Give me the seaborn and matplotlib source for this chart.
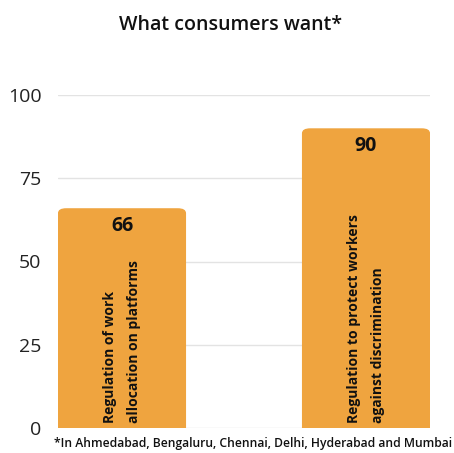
import matplotlib
matplotlib.use("Agg")
import matplotlib.pyplot as plt
import seaborn as sns
import pandas as pd
from matplotlib.patches import FancyBboxPatch

categories = ["Regulation of work\nallocation on platforms",
              "Regulation to protect workers\nagainst discrimination"]
values = [66, 90]
yticks = [0, 25, 50, 75, 100]
title = "What consumers want*"
footnote = "*In Ahmedabad, Bengaluru, Chennai, Delhi, Hyderabad and Mumbai"

sns.set_theme(style="white")
plt.rcParams['font.family'] = ['Open Sans', 'DejaVu Sans']

BAR = "#EFA43F"
df = pd.DataFrame({"cat": categories, "val": values})

fig = plt.figure(figsize=(4.54, 4.53), dpi=100)
ax = fig.add_axes([58/454, 25/453, 372/454, 333/453])
sns.barplot(data=df, x="cat", y="val", color=BAR, width=0.525, saturation=1,
            ax=ax, zorder=3)

ax.set_xlim(-0.2623, 1.2623)
ax.set_ylim(0, 100)

# rounded top corners
px_x = 372 / (1.2623 * 2)   # px per x unit
px_y = 333 / 100            # px per y unit
for p in list(ax.patches):
    x0, y0 = p.get_x(), p.get_y()
    w, h = p.get_width(), p.get_height()
    p.set_visible(False)
    r = 5 / px_x
    fb = FancyBboxPatch((x0, y0 - 3), w, h + 3,
                        boxstyle=f"round,pad=0,rounding_size={r}",
                        mutation_aspect=px_x / px_y,
                        facecolor=BAR, edgecolor="none", zorder=3,
                        clip_on=True)
    ax.add_patch(fb)

for i, (c, v) in enumerate(zip(categories, values)):
    ax.text(i, v - 2.3, str(v), ha="center", va="top", fontsize=14,
            fontweight="bold", color="#111111", zorder=4)
    ax.text(i, 1.5, c, rotation=90, ha="center", va="bottom",
            multialignment="left", fontsize=10, fontweight="bold",
            color="#111111", linespacing=1.85, zorder=4)

ax.set_yticks(yticks)
ax.set_yticklabels([str(t) for t in yticks], fontsize=14, color="#222222")
ax.tick_params(axis="y", length=0, pad=12)
ax.set_xticks([])
ax.set_xlabel("")
ax.set_ylabel("")
ax.grid(axis="y", color="#e3e3e3", linewidth=1.0, zorder=0)
ax.set_axisbelow(True)
for s in ax.spines.values():
    s.set_visible(False)

fig.text(231/454, 1 - 25/453, title, ha="center", va="center",
         fontsize=14, fontweight="semibold", color="#111111")
fig.text(253/454, 1 - 443/453, footnote, ha="center", va="center",
         fontsize=8.7, fontweight="semibold", color="#111111")

fig.savefig("out.png", dpi=100, facecolor="white")
